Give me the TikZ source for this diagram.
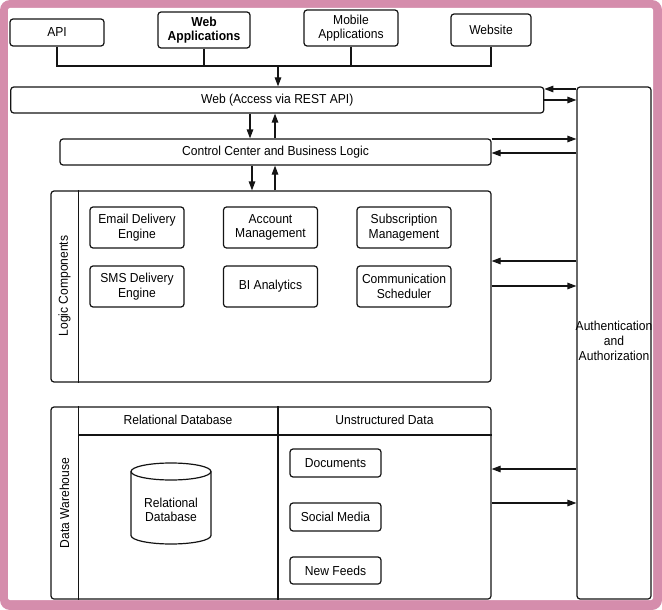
\documentclass[tikz,border=0pt]{standalone}
\usepackage{fontspec}
\setmainfont[FakeStretch=0.93]{Liberation Sans}
\usetikzlibrary{arrows.meta,calc}
\definecolor{framepink}{RGB}{213,141,172}
\definecolor{ink}{RGB}{20,20,20}
\begin{document}
\begin{tikzpicture}[x=1pt,y=-1pt,
  line width=1.2pt,
  box/.style={draw=ink, rounded corners=3pt, inner sep=1pt, align=center,
    font=\fontsize{13}{14.3}\selectfont},
  panel/.style={draw=ink, rounded corners=3pt, inner sep=0pt},
  lbl/.style={inner sep=0pt, align=center, font=\fontsize{13}{14.7}\selectfont},
  arr/.style={draw=ink, -{Triangle[length=9pt,width=6.5pt]}},
  ln/.style={draw=ink}
]
\useasboundingbox (0,0) rectangle (662,610);
% frame
\fill[framepink, rounded corners=10pt] (0,0) rectangle (662,610);
\fill[white, rounded corners=2pt] (8,8) rectangle (653,600);

% top sources
\node[box, minimum width=94pt, minimum height=27pt] (api) at (57,32.5) {API};
\node[box, minimum width=92pt, minimum height=36pt, font=\fontsize{13}{13.7}\selectfont\bfseries] (webapp) at (204,30) {Web\\Applications};
\node[box, minimum width=94pt, minimum height=36pt] (mobile) at (351,28) {Mobile\\Applications};
\node[box, minimum width=80pt, minimum height=32pt] (website) at (491,30) {Website};

% main layers
\node[box, minimum width=533pt, minimum height=26pt] (web) at (277.25,100) {Web (Access via REST API)};
\node[box, minimum width=431pt, minimum height=26pt] (ctrl) at (275.5,152) {Control Center and Business Logic};
\node[panel, minimum width=74pt, minimum height=512pt] (auth) at (614,343) {};
\node[lbl] (authtext) at (614,341) {Authentication\\and\\Authorization};

% bus
\coordinate (bus) at (278,66);
\draw[ln] (api.south) -- (api.south |- bus) -- (website.south |- bus) -- (website.south);
\draw[ln] (webapp.south) -- (webapp.south |- bus);
\draw[ln] (mobile.south) -- (mobile.south |- bus);
\draw[arr] (bus) -- (bus |- web.north);

% web <-> control
\draw[arr] (web.south -| 250,0) -- (ctrl.north -| 250,0);
\draw[arr] (ctrl.north -| 275,0) -- (web.south -| 275,0);

% logic components panel
\node[panel, minimum width=440pt, minimum height=191pt] (logic) at (271,286.5) {};
\draw[ln] (logic.north west -| 78.5,0) -- (logic.south west -| 78.5,0);
\node[lbl, rotate=90] (logiclbl) at (64.5,286) {Logic Components};

\draw[arr] (ctrl.south -| 252,0) -- (logic.north -| 252,0);
\draw[arr] (logic.north -| 275,0) -- (ctrl.south -| 275,0);

\node[box, minimum width=94pt, minimum height=41pt] (email) at (137,227.5) {Email Delivery\\Engine};
\node[box, minimum width=94pt, minimum height=41pt] (account) at (270.5,227.5) {Account\\Management};
\node[box, minimum width=94pt, minimum height=41pt] (subs) at (404,227.5) {Subscription\\Management};
\node[box, minimum width=94pt, minimum height=41pt] (sms) at (137,286.5) {SMS Delivery\\Engine};
\node[box, minimum width=94pt, minimum height=41pt] (bi) at (270.5,286.5) {BI Analytics};
\node[box, minimum width=94pt, minimum height=41pt] (sched) at (404,286.5) {Communication\\Scheduler};

% data warehouse panel
\node[panel, minimum width=440pt, minimum height=192pt] (dw) at (271,503) {};
\draw[ln] (dw.north west -| 78.5,0) -- (dw.south west -| 78.5,0);
\draw[ln] (dw.north -| 278,0) -- (dw.south -| 278,0);
\draw[ln] (78.5,435) -- (dw.east |- 0,435);
\node[lbl, rotate=90] (dwlbl) at (64.5,503) {Data Warehouse};
\node[lbl] (relhead) at (178,420) {Relational Database};
\node[lbl] (unhead) at (384.5,420) {Unstructured Data};

% cylinder
\draw[ink] (131,471.5) -- (131,535.5) arc[start angle=180, end angle=360, x radius=40pt, y radius=8.5pt] -- (211,471.5);
\draw[ink] (171,471.5) ellipse[x radius=40pt, y radius=8.5pt];
\node[lbl] (reldb) at (171,510) {Relational\\Database};

\node[box, minimum width=91pt, minimum height=28pt] (docs) at (335.5,463) {Documents};
\node[box, minimum width=91pt, minimum height=28pt] (social) at (335.5,517) {Social Media};
\node[box, minimum width=91pt, minimum height=27pt] (feeds) at (335.5,570.5) {New Feeds};

% auth connectors
\draw[arr] (auth.west |- 0,89) -- (web.east |- 0,89);
\draw[arr] (web.east |- 0,100) -- (auth.west |- 0,100);
\draw[arr] (ctrl.east |- 0,139) -- (auth.west |- 0,139);
\draw[arr] (auth.west |- 0,153) -- (ctrl.east |- 0,153);
\draw[arr] (auth.west |- 0,261) -- (logic.east |- 0,261);
\draw[arr] (logic.east |- 0,286) -- (auth.west |- 0,286);
\draw[arr] (auth.west |- 0,469) -- (dw.east |- 0,469);
\draw[arr] (dw.east |- 0,503) -- (auth.west |- 0,503);
\end{tikzpicture}
\end{document}
